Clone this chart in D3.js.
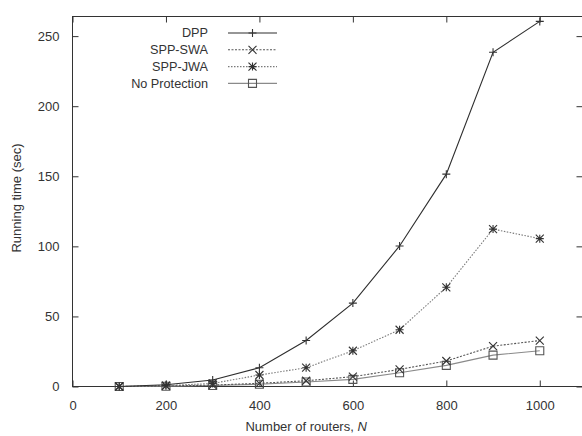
<!DOCTYPE html>
<html>
<head>
<meta charset="utf-8">
<script src="https://cdn.jsdelivr.net/npm/d3@7/dist/d3.min.js"></script>
<style>
  html, body { margin: 0; padding: 0; background: #fff; }
  svg { display: block; }
  text { font-family: "Liberation Sans", Arial, Helvetica, sans-serif; fill: #333; }
</style>
</head>
<body>
<svg id="chart" width="582" height="436"></svg>
<script>
// Router counts on the x axis
const routers = [100, 200, 300, 400, 500, 600, 700, 800, 900, 1000];

// Running time (sec) per scheme
const dpp          = [0, 1.2, 4.6, 13.4, 32.8, 59.5, 100.3, 151.5, 238.5, 260.5];
const sppSwa       = [0, 0.4, 1.0, 2.3, 4.1, 7.0, 12.2, 18.2, 28.8, 32.8];
const sppJwa       = [0, 0.6, 2.2, 8.2, 13.4, 25.5, 40.5, 70.8, 112.3, 105.5];
const noProtection = [0, 0.2, 0.7, 1.6, 3.2, 5.1, 9.8, 15.1, 22.4, 25.5];

const seriesNames = ["DPP", "SPP-SWA", "SPP-JWA", "No Protection"];

// Tick labels
const xTicks = [0, 200, 400, 600, 800, 1000];
const yTicks = [0, 50, 100, 150, 200, 250];

const series = [
  { name: seriesNames[0], values: dpp,          color: "#2e2e2e", dash: null,      marker: "plus",   mk: "#333" },
  { name: seriesNames[1], values: sppSwa,       color: "#555555", dash: "2,1.5",   marker: "cross",  mk: "#333" },
  { name: seriesNames[2], values: sppJwa,       color: "#7a7a7a", dash: "1.5,1.5", marker: "star",   mk: "#333" },
  { name: seriesNames[3], values: noProtection, color: "#8a8a8a", dash: null,      marker: "square", mk: "#555" }
];

const svg = d3.select("#chart");
const plot = { left: 72.5, right: 586.5, top: 16.5, bottom: 386.5 };

const x = d3.scaleLinear().domain([0, 1100]).range([plot.left, plot.right]);
const y = d3.scaleLinear().domain([0, 264]).range([plot.bottom, plot.top]);

const frameColor = "#333";
const tickLen = 6;
const fmt = d3.format("d");

// Plot frame
svg.append("rect")
  .attr("x", plot.left).attr("y", plot.top)
  .attr("width", plot.right - plot.left).attr("height", plot.bottom - plot.top)
  .attr("fill", "none").attr("stroke", frameColor).attr("stroke-width", 1);

// Bottom axis: inward ticks, labels below
const xAxis = svg.append("g").attr("transform", `translate(0,${plot.bottom})`)
  .call(d3.axisBottom(x).tickValues(xTicks).tickFormat(fmt)
    .tickSizeInner(-tickLen).tickSizeOuter(0).tickPadding(14));
xAxis.select(".domain").remove();
xAxis.selectAll("line").attr("stroke", frameColor);
xAxis.selectAll("text").attr("font-size", "13px").attr("fill", "#333");

// Top mirror ticks
svg.append("g").attr("transform", `translate(0,${plot.top})`)
  .call(d3.axisTop(x).tickValues(xTicks).tickSizeInner(-tickLen).tickSizeOuter(0).tickFormat(""))
  .call(g => g.select(".domain").remove())
  .selectAll("line").attr("stroke", frameColor);

// Left axis
const yAxis = svg.append("g").attr("transform", `translate(${plot.left},0)`)
  .call(d3.axisLeft(y).tickValues(yTicks).tickFormat(fmt)
    .tickSizeInner(-tickLen).tickSizeOuter(0).tickPadding(13));
yAxis.select(".domain").remove();
yAxis.selectAll("line").attr("stroke", frameColor);
yAxis.selectAll("text").attr("font-size", "13px").attr("fill", "#333");

// Right mirror ticks
svg.append("g").attr("transform", `translate(${plot.right},0)`)
  .call(d3.axisRight(y).tickValues(yTicks).tickSizeInner(-tickLen - 4).tickSizeOuter(0).tickFormat(""))
  .call(g => g.select(".domain").remove())
  .selectAll("line").attr("stroke", frameColor);

// Axis titles
const xTitle = svg.append("text")
  .attr("x", (x(0) + x(1000)) / 2).attr("y", 431)
  .attr("text-anchor", "middle").attr("font-size", "13px");
xTitle.append("tspan").text("Number of routers, ");
xTitle.append("tspan").attr("font-style", "italic").text("N");

svg.append("text")
  .attr("transform", "translate(21,198) rotate(-90)")
  .attr("text-anchor", "middle").attr("font-size", "13px")
  .text("Running time (sec)");

// Marker drawing
function drawMarker(g, type, cx, cy, color) {
  const s = 4;
  const p = d3.path();
  if (type === "plus" || type === "star") {
    p.moveTo(cx - s, cy); p.lineTo(cx + s, cy);
    p.moveTo(cx, cy - s); p.lineTo(cx, cy + s);
  }
  if (type === "cross" || type === "star") {
    p.moveTo(cx - s, cy - s); p.lineTo(cx + s, cy + s);
    p.moveTo(cx - s, cy + s); p.lineTo(cx + s, cy - s);
  }
  if (type === "square") {
    p.rect(cx - s, cy - s, 2 * s, 2 * s);
  }
  g.append("path").attr("d", p.toString())
    .attr("fill", "none").attr("stroke", color).attr("stroke-width", 1.1);
}

const line = d3.line().x(d => x(d[0])).y(d => y(d[1]));

// Draw series back to front
[...series].reverse().forEach(s => {
  const pts = routers.map((r, i) => [r, s.values[i]]);
  const g = svg.append("g");
  g.append("path").datum(pts).attr("d", line)
    .attr("fill", "none").attr("stroke", s.color).attr("stroke-width", 1.1)
    .attr("stroke-dasharray", s.dash);
  pts.forEach(p => drawMarker(g, s.marker, x(p[0]), y(p[1]), s.mk));
});

// Legend
const legend = svg.append("g");
series.forEach((s, i) => {
  const ly = 33 + i * 16.8;
  legend.append("text").attr("x", 208).attr("y", ly).attr("dy", "0.35em")
    .attr("text-anchor", "end").attr("font-size", "12.7px").text(s.name);
  legend.append("line").attr("x1", 228).attr("x2", 277).attr("y1", ly).attr("y2", ly)
    .attr("stroke", s.color).attr("stroke-width", 1.1).attr("stroke-dasharray", s.dash);
  drawMarker(legend, s.marker, 252.5, ly, s.mk);
});
</script>
</body>
</html>
